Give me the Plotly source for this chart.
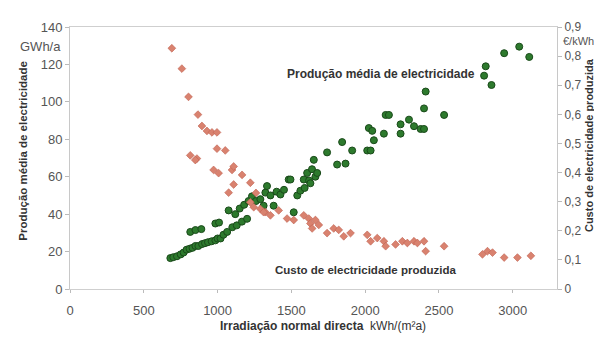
import plotly.graph_objects as go

# irradiation (kWh/m2a) vs average electricity production (GWh/a)
prod_x = [680, 700, 725, 750, 770, 790, 810, 830, 850, 870, 895, 915, 935, 960, 985,
          1000, 1020, 1040, 1065, 1100, 1130, 1165, 1200, 815, 850, 890, 985, 1010,
          1075, 1120, 1150, 1180, 1210, 1233, 1260, 1290, 1312, 1324, 1335, 1358,
          1380, 1400, 1426, 1450, 1482, 1494, 1516, 1540, 1561, 1584, 1590, 1607,
          1620, 1629, 1640, 1652, 1663, 1675, 1742, 1810, 1844, 1867, 1912, 2014,
          2025, 2037, 2048, 2059, 2127, 2139, 2161, 2240, 2240, 2297, 2331, 2376,
          2399, 2399, 2410, 2535, 2806, 2817, 2856, 2942, 3044, 3112]
prod_y = [16.5, 17, 17.5, 18.5, 19.5, 21, 21.5, 22, 23, 23, 24, 24.5, 25, 25.5, 26,
          27, 27, 29, 30.5, 33, 34, 36, 37.5, 30.5, 31.5, 32, 35, 35.5,
          42, 40, 43, 45, 47, 49.5, 47, 48, 44.5, 51.5, 55, 50,
          44.5, 52, 50.5, 53, 58.5, 58.5, 41, 50, 52.5, 58.5, 54, 62,
          58, 56.5, 64, 69, 60, 62, 73, 66.5, 78.5, 67, 74, 74,
          86, 74, 84.5, 79.5, 83, 93, 93, 88, 83, 90.5, 87, 85.5,
          85.5, 96.5, 105.5, 93, 114, 119, 109, 126, 129.5, 124]

# irradiation vs cost of electricity produced (EUR/kWh)
cost_x = [690, 758, 803, 867, 894, 928, 962, 996, 996, 1052, 815, 860, 849, 973,
          1007, 1098, 1109, 1166, 1109, 1222, 1075, 1222, 1245, 1290, 1324, 1260,
          1312, 1358, 1414, 1471, 1516, 1584, 1618, 1629, 1641, 1663, 1686, 1742,
          1787, 1821, 1855, 1901, 2014, 2037, 2082, 2127, 2139, 2206, 2252, 2286,
          2331, 2354, 2399, 2410, 2535, 2795, 2829, 2863, 2942, 3032, 3123]
cost_y = [0.827, 0.757, 0.660, 0.599, 0.560, 0.543, 0.538, 0.538, 0.482, 0.476, 0.459,
          0.448, 0.443, 0.409, 0.398, 0.409, 0.421, 0.392, 0.359, 0.365, 0.331, 0.298,
          0.281, 0.275, 0.264, 0.33, 0.264, 0.253, 0.270, 0.242, 0.237, 0.253, 0.242,
          0.225, 0.208, 0.237, 0.220, 0.192, 0.208, 0.203, 0.181, 0.192, 0.186, 0.164,
          0.175, 0.164, 0.147, 0.153, 0.164, 0.158, 0.164, 0.158, 0.164, 0.130, 0.147,
          0.119, 0.130, 0.125, 0.108, 0.108, 0.114]

x_ticks = [0, 500, 1000, 1500, 2000, 2500, 3000]
y_ticks = [0, 20, 40, 60, 80, 100, 120, 140]
y2_ticks = [0, 0.1, 0.2, 0.3, 0.4, 0.5, 0.6, 0.7, 0.8, 0.9]
y2_labels = ["0", "0,1", "0,2", "0,3", "0,4", "0,5", "0,6", "0,7", "0,8", "0,9"]

FONT = "Liberation Sans"
TXT = "#333"

fig = go.Figure()
fig.add_trace(go.Scatter(
    x=cost_x, y=cost_y, mode="markers", yaxis="y2",
    marker=dict(symbol="diamond", size=6, color="#d9826f",
                line=dict(color="#c0604f", width=0.6)),
    showlegend=False))
fig.add_trace(go.Scatter(
    x=prod_x, y=prod_y, mode="markers",
    marker=dict(symbol="circle", size=7, color="#2d7a2d",
                line=dict(color="#1a4a1a", width=1)),
    showlegend=False))

# page body has an 8px margin, so the figure is sized/offset to fit the window
fig.update_layout(
    width=594, height=337,
    margin=dict(l=62, r=45, t=12, b=56),
    plot_bgcolor="white", paper_bgcolor="white",
    font=dict(family=FONT, size=13, color="#555"),
    xaxis=dict(range=[0, 3300], tickvals=x_ticks, showgrid=False, zeroline=False,
               showline=True, linecolor="#cfcfcf", linewidth=1, mirror=True,
               ticks="outside", ticklen=3, tickcolor="#bbb", ticklabelstandoff=6),
    yaxis=dict(range=[0, 140], tickvals=y_ticks, showgrid=False, zeroline=False,
               showline=True, linecolor="#c8c8c8", linewidth=1,
               ticks="outside", ticklen=4, tickcolor="#bbb"),
    yaxis2=dict(range=[0, 0.9], tickvals=y2_ticks, ticktext=y2_labels, overlaying="y",
                side="right", showgrid=False, zeroline=False,
                showline=True, linecolor="#c8c8c8", linewidth=1,
                ticks="outside", ticklen=4, tickcolor="#bbb",
                tickfont=dict(size=12)),
)

def note(text, x, y, xref="x", yref="y", size=10, angle=0, xanchor="center", color=TXT):
    fig.add_annotation(text=text, x=x, y=y, xref=xref, yref=yref, showarrow=False,
                       textangle=angle, xanchor=xanchor, yanchor="middle",
                       font=dict(family=FONT, size=size, color=color))

note("<b>Produção média de electricidade</b>", 2110, 115, size=12)
note("<b>Custo de electricidade produzida</b>", 2000, 10, size=11.5)
note("GWh/a", -0.014, 0.925, "paper", "paper", size=13, xanchor="right", color="#555")
note("€/kWh", 1.008, 0.948, "paper", "paper", size=11, xanchor="left", color="#555")
note("<b>Produção média de electricidade</b>", -0.0965, 0.528, "paper", "paper", size=11.5, angle=-90)
note("<b>Custo de electricidade produzida</b>", 1.066, 0.55, "paper", "paper", size=11, angle=-90)
note("<b>Irradiação normal directa</b>  kWh/(m²a)", 0.52, -0.141, "paper", "paper", size=12)

fig.write_html("out.html")
